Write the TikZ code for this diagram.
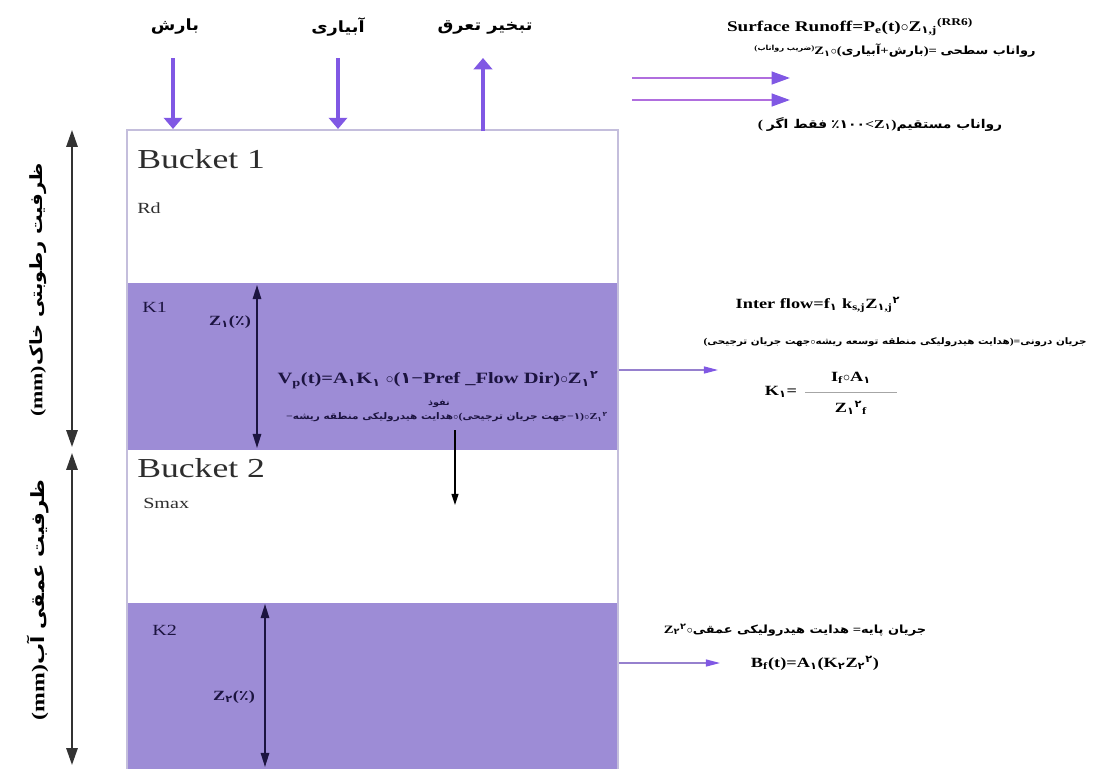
\documentclass[tikz,border=0pt]{standalone}
\usepackage{fontspec}
\usetikzlibrary{arrows.meta}
\setmainfont[FakeStretch=1.3]{Liberation Serif}
\newfontfamily\farsi[Script=Arabic,FakeStretch=1.15]{DejaVu Sans}
\TeXXeTstate=1
\newcommand{\fa}[1]{{\farsi #1}}
\newcommand{\faR}[1]{{\farsi\beginR #1\endR}}

\definecolor{layerfill}{RGB}{157,140,214}
\definecolor{flowviolet}{RGB}{128,88,228}
\definecolor{runoffpink}{RGB}{176,110,222}
\definecolor{boxgray}{RGB}{196,190,220}
\definecolor{outline}{RGB}{150,128,206}
\definecolor{navy}{RGB}{28,20,64}
\definecolor{labelgray}{RGB}{45,45,45}

\tikzstyle{farsilbl} = [font=\farsi\bfseries\fontsize{11}{13}\selectfont,
inner sep=1pt]
\tikzstyle{sidelbl} = [font=\bfseries\fontsize{13}{15}\selectfont,
rotate=90,
inner sep=1pt]
\tikzstyle{formula} = [font=\bfseries\fontsize{10}{12}\selectfont,
inner sep=1pt]
\tikzstyle{fanote} = [font=\bfseries\fontsize{8}{10}\selectfont,
inner sep=1pt]
\tikzstyle{bucketlbl} = [font=\fontsize{19.5}{22}\selectfont,
text=labelgray,
anchor=base west,
inner sep=0pt]
\tikzstyle{layerlbl} = [font=\fontsize{11}{13}\selectfont,
text=navy,
anchor=base west,
inner sep=0pt]
\tikzstyle{inflow} = [line width=2.2pt, flowviolet, -{Triangle[width=13pt,length=8pt]}]
\tikzstyle{runoff} = [line width=1.5pt, runoffpink, -{Triangle[width=9pt,length=13pt,color=flowviolet]}]
\tikzstyle{outflow} = [line width=0.9pt, outline, -{Triangle[width=5pt,length=10pt,color=flowviolet]}]
\tikzstyle{capacity} = [line width=1.4pt, black!80, {Triangle[width=8pt,length=12pt]}-{Triangle[width=8pt,length=12pt]}]
\tikzstyle{depth} = [line width=1.1pt, navy, {Triangle[width=6pt,length=10pt]}-{Triangle[width=6pt,length=10pt]}]
\tikzstyle{seep} = [line width=0.8pt, black, -{Triangle[width=5pt,length=8pt]}]

\begin{document}
\begin{tikzpicture}[x=0.025cm, y=-0.025cm]
\useasboundingbox (0,0) rectangle (1105,769);

% the two buckets
\fill[layerfill] (127,283) rectangle (618,450);
\fill[layerfill] (127,603) rectangle (618,769);
\draw[boxgray, line width=0.8pt] (127,769) -- (127,130) -- (618,130) -- (618,769);

\node (b1) [bucketlbl] at (137,168) {Bucket 1};
\node (rd) [layerlbl, text=labelgray] at (137,213) {Rd};
\node (k1) [layerlbl] at (142,312) {K1};
\node (b2) [bucketlbl] at (137,477) {Bucket 2};
\node (smax) [layerlbl, text=labelgray] at (143,508) {Smax};
\node (k2) [layerlbl] at (152,635) {K2};

% top fluxes
\node (rain) [farsilbl] at (175,27) {\faR{بارش}};
\node (irrig) [farsilbl] at (338,27) {\faR{آبیاری}};
\node (evap) [farsilbl] at (485,27) {\faR{تبخیر تعرق}};
\coordinate (rainTop) at (173,58);
\coordinate (rainIn) at (173,129);
\coordinate (irrigTop) at (338,58);
\coordinate (irrigIn) at (338,129);
\coordinate (evapOut) at (483,131);
\coordinate (evapTop) at (483,58);
\draw[inflow] (rainTop) -- (rainIn);
\draw[inflow] (irrigTop) -- (irrigIn);
\draw[inflow] (evapOut) -- (evapTop);

% surface runoff
\node (surf) [formula, font=\bfseries\fontsize{10.5}{12}\selectfont] at (850,27)
{Surface Runoff=P\textsubscript{e}(t)$\circ$Z\textsubscript{\fa{۱},j}\textsuperscript{(RR6)}};
\node (surffa) [fanote] at (895,51)
{\raisebox{3pt}{\tiny(\faR{ضریب رواناب})}Z\textsubscript{\fa{۱}}$\circ$(\faR{آبیاری}+\faR{بارش})= \faR{رواناب سطحی}};
\coordinate (run1a) at (632,78);
\coordinate (run1b) at (790,78);
\coordinate (run2a) at (632,100);
\coordinate (run2b) at (790,100);
\draw[runoff] (run1a) -- (run1b);
\draw[runoff] (run2a) -- (run2b);
\node (direct) [fanote, font=\bfseries\fontsize{8.6}{10}\selectfont] at (880,124)
{( \faR{فقط اگر} \fa{٪۱۰۰}<Z\textsubscript{\fa{۱}})\faR{رواناب مستقیم}};

% storage capacities
\coordinate (capTop) at (72,130);
\coordinate (capMid1) at (72,447);
\coordinate (capMid2) at (72,453);
\coordinate (capBot) at (72,765);
\draw[capacity] (capTop) -- (capMid1);
\draw[capacity] (capMid2) -- (capBot);
\node (soilcap) [sidelbl, font=\bfseries\fontsize{12}{14}\selectfont] at (38,290) {(mm)\faR{ظرفیت رطوبتی خاک}};
\node (deepcap) [sidelbl] at (38,600) {(mm)\faR{ظرفیت عمقی آب}};

% root zone
\coordinate (z1top) at (257,285);
\coordinate (z1bot) at (257,448);
\draw[depth] (z1top) -- (z1bot);
\node (z1) [formula, text=navy] at (230,322) {Z\textsubscript{\fa{۱}}(\fa{٪})};
\node (vp) [formula, font=\bfseries\fontsize{11.2}{13}\selectfont, text=navy] at (438,380)
{V\textsubscript{p}(t)=A\textsubscript{\fa{۱}}K\textsubscript{\fa{۱}} $\circ$(\fa{۱}−Pref \_Flow Dir)$\circ$Z\textsubscript{\fa{۱}}\textsuperscript{\fa{۲}}};
\node (nofooz) [fanote, font=\bfseries\fontsize{6}{7}\selectfont, text=navy] at (439,404) {\faR{نفوذ}};
\node (vpfa) [fanote, font=\bfseries\fontsize{6.5}{8}\selectfont, text=navy] at (447,417)
{−\faR{هدایت هیدرولیکی منطقه ریشه}$\circ$(\faR{جهت جریان ترجیحی}−\fa{۱})$\circ$Z\textsubscript{\fa{۱}}\textsuperscript{\fa{۲}}};
\coordinate (seepTop) at (455,430);
\coordinate (seepBot) at (455,505);
\draw[seep] (seepTop) -- (seepBot);

% interflow
\coordinate (interOut) at (619,370);
\coordinate (interEnd) at (718,370);
\draw[outflow] (interOut) -- (interEnd);
\node (inter) [formula] at (818,305)
{Inter flow=f\textsubscript{\fa{۱}} k\textsubscript{s,j}Z\textsubscript{\fa{۱},j}\textsuperscript{\fa{۲}}};
\node (interfa) [fanote, font=\bfseries\fontsize{6.4}{8}\selectfont] at (895,342)
{(\faR{جهت جریان ترجیحی}$\circ$\faR{هدایت هیدرولیکی منطقه توسعه ریشه})=\faR{جریان درونی}};
\node (kone) [formula] at (781,392) {K\textsubscript{\fa{۱}}=};
\node (knum) [formula] at (851,378) {I\textsubscript{f}$\circ$A\textsubscript{\fa{۱}}};
\node (kden) [formula] at (851,408) {Z\textsubscript{\fa{۱}}\textsuperscript{\fa{۲}}\textsubscript{f}};
\coordinate (barL) at (805,392);
\coordinate (barR) at (897,392);
\draw[black!35, line width=0.5pt] (barL) -- (barR);

% deep zone
\coordinate (z2top) at (265,604);
\coordinate (z2bot) at (265,767);
\draw[depth] (z2top) -- (z2bot);
\node (z2) [formula, text=navy] at (234,697) {Z\textsubscript{\fa{۲}}(\fa{٪})};

% baseflow
\coordinate (baseOut) at (619,663);
\coordinate (baseEnd) at (720,663);
\draw[outflow] (baseOut) -- (baseEnd);
\node (basefa) [fanote] at (795,630)
{Z\textsubscript{\fa{۲}}\textsuperscript{\fa{۲}}$\circ$\faR{هدایت هیدرولیکی عمقی} =\faR{جریان پایه}};
\node (bf) [formula] at (815,663)
{B\textsubscript{f}(t)=A\textsubscript{\fa{۱}}(K\textsubscript{\fa{۲}}Z\textsubscript{\fa{۲}}\textsuperscript{\fa{۲}})};
\end{tikzpicture}
\end{document}
